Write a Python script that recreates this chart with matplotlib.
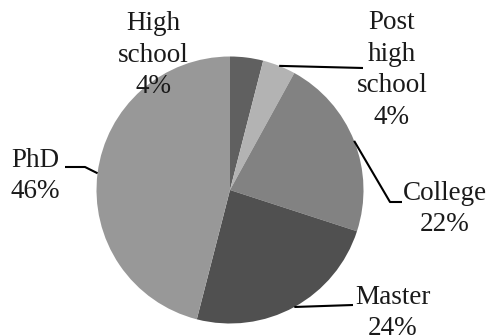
import numpy as np
import matplotlib.pyplot as plt

# education level shares (%)
categories = ["High\nschool", "Post\nhigh\nschool", "College", "Master", "PhD"]
values = [4, 4, 22, 24, 46]
colors = ["#606060", "#b3b3b3", "#828282", "#505050", "#989898"]

W, H = 489, 336
fig = plt.figure(figsize=(W / 100, H / 100), dpi=100)
ax = fig.add_axes([0, 0, 1, 1])

cx, cy, r = 230, H - 190, 133.5
wedges, _ = ax.pie(values, colors=colors, startangle=90, counterclock=False,
                   center=(cx, cy), radius=r, wedgeprops=dict(linewidth=0))
ax.set_xlim(0, W)
ax.set_ylim(0, H)
ax.set_aspect("auto")
ax.axis("off")

font = dict(family=["Liberation Serif", "DejaVu Serif"], size=19.5, color="#1a1a1a",
            ha="center", va="center", linespacing=1.36)

# label centre positions (image px) and leader path (image px, from label side)
label_pos = [(153, 55), (392, 70), (445, 209), (393, 313), (35, 176)]
leaders = [None, [(363, 68)], [(402, 202), (390, 202)], [(353, 305)], [(65, 167), (85, 167)]]

frac = np.cumsum([0] + values) / sum(values)
for i, (lab, v) in enumerate(zip(categories, values)):
    x, y = label_pos[i]
    ax.text(x, H - y, f"{lab}\n{v}%", **font)
    if leaders[i] is None:
        continue
    mid = np.deg2rad(90 - 360 * (frac[i] + frac[i + 1]) / 2)
    rim = (cx + r * np.cos(mid), cy + r * np.sin(mid))
    pts = [(px, H - py) for px, py in leaders[i]] + [rim]
    ax.plot([p[0] for p in pts], [p[1] for p in pts], color="black", lw=1.5,
            solid_capstyle="butt")

fig.savefig("out.png", dpi=100)
